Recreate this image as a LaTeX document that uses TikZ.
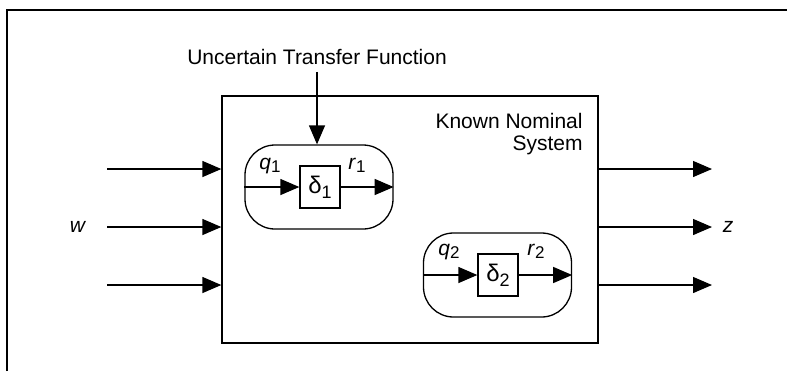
\documentclass[tikz,border=0pt]{standalone}
\usepackage{fontspec}
\setmainfont{Liberation Sans}
\usetikzlibrary{arrows.meta}

\newcommand{\idx}[1]{\raisebox{-1.5pt}{\fontsize{8.5}{8.5}\selectfont #1}}

\tikzset{
	sig/.style={-{Triangle[length=9.5pt,width=8pt]}, line width=0.65pt},
	blk/.style={draw, line width=0.65pt, inner sep=0pt},
	ublk/.style={blk, rounded corners=15pt, minimum width=74pt, minimum height=42pt},
	dblk/.style={blk, minimum width=20pt, minimum height=21pt},
}

\begin{document}
\begin{tikzpicture}[x=0.5pt, y=-0.5pt, font=\fontsize{10.5}{11}\selectfont]

	\useasboundingbox (0,0) rectangle (787,371);
	\draw[line width=1.3pt] (7,371) -- (7,10) -- (787,10);

	\node[blk, minimum width=188pt, minimum height=123.5pt] (plant) at (410,219.5) {};
	\node[ublk] (unc1) at (319,187) {};
	\node[ublk] (unc2) at (497.5,275) {};
	\node[dblk] (d1) at (320,187) {{\fontsize{12}{12}\selectfont δ}\raisebox{-2.5pt}{\fontsize{9}{9}\selectfont 1}};
	\node[dblk] (d2) at (498,275) {{\fontsize{12}{12}\selectfont δ}\raisebox{-2.5pt}{\fontsize{9}{9}\selectfont 2}};

	\node (utf) at (317,57) {Uncertain Transfer Function};
	\node[align=right, anchor=north east, inner sep=0pt] (kns) at (583,113) {Known Nominal\\System};

	\node (q1) at (270,166) {\textit{q}\idx{1}};
	\node (r1) at (357,165) {\textit{r}\idx{1}};
	\node (q2) at (449,252) {\textit{q}\idx{2}};
	\node (r2) at (536,251) {\textit{r}\idx{2}};
	\node (w) at (78,227) {\textit{w}};
	\node (z) at (728,227) {\textit{z}};

	\draw[sig] (utf.south) -- (utf.south |- unc1.north);
	\draw[sig] (unc1.west) -- (d1.west);
	\draw[sig] (d1.east) -- (unc1.east);
	\draw[sig] (unc2.west) -- (d2.west);
	\draw[sig] (d2.east) -- (unc2.east);

	\foreach \i/\y in {1/169,2/227,3/285} {
		\coordinate (in\i) at (107,\y);
		\coordinate (out\i) at (712,\y);
		\draw[sig] (in\i) -- (in\i -| plant.west);
		\draw[sig] (plant.east |- out\i) -- (out\i);
	}

\end{tikzpicture}
\end{document}
